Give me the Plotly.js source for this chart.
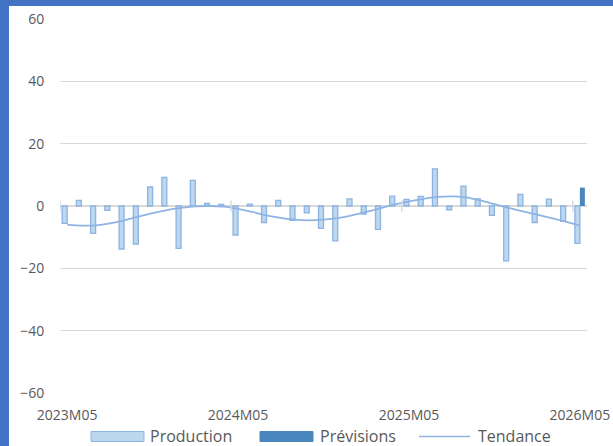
<!DOCTYPE html>
<html>
<head>
<meta charset="utf-8">
<script src="https://cdn.plot.ly/plotly-3.0.1.min.js"></script>
<style>
  html, body { margin: 0; padding: 0; background: #ffffff; }
  #wrap { position: relative; width: 613px; height: 446px; overflow: hidden; }
  #chart { position: absolute; left: 0; top: 0; width: 613px; height: 446px; }
  .edgeL { position: absolute; left: 0; top: 0; width: 9px; height: 446px; background: #4472C4; }
  .edgeT { position: absolute; left: 0; top: 0; width: 613px; height: 6px; background: #4472C4; }
</style>
</head>
<body>
<div id="wrap">
  <div id="chart"></div>
  <div class="edgeL"></div>
  <div class="edgeT"></div>
</div>
<script>
// ---- data ----
const months = [
  "2023M05","2023M06","2023M07","2023M08","2023M09","2023M10","2023M11","2023M12",
  "2024M01","2024M02","2024M03","2024M04","2024M05","2024M06","2024M07","2024M08",
  "2024M09","2024M10","2024M11","2024M12","2025M01","2025M02","2025M03","2025M04",
  "2025M05","2025M06","2025M07","2025M08","2025M09","2025M10","2025M11","2025M12",
  "2026M01","2026M02","2026M03","2026M04","2026M05"
];
const production = [
  -5.6, 1.8, -8.8, -1.4, -13.8, -12.2, 6.1, 9.2,
  -13.6, 8.2, 0.8, 0.5, -9.3, 0.6, -5.3, 1.8,
  -4.6, -2.2, -7.2, -11.2, 2.3, -2.6, -7.5, 3.2,
  2.1, 3.1, 11.9, -1.2, 6.4, 2.3, -3.0, -17.6,
  3.7, -5.3, 2.2, -4.9, -12.0
];
const previsions = [
  null, null, null, null, null, null, null, null,
  null, null, null, null, null, null, null, null,
  null, null, null, null, null, null, null, null,
  null, null, null, null, null, null, null, null,
  null, null, null, null, 5.9
];
const tendance = [
  -6.0, -6.3, -6.2, -5.6, -4.6, -3.4, -2.3, -1.3,
  -0.6, -0.1, 0.0, -0.2, -0.9, -1.9, -3.0, -3.8,
  -4.4, -4.6, -4.4, -3.9, -3.0, -1.9, -0.7, 0.5,
  1.5, 2.3, 2.9, 3.1, 2.8, 1.8, 0.6, -0.6,
  -1.7, -2.8, -3.9, -5.0, -6.3
];
const tickLabels = ["2023M05", "2024M05", "2025M05", "2026M05"];
const seriesNames = ["Production", "Prévisions", "Tendance"];
const yTicks = [-60, -40, -20, 0, 20, 40, 60];

// ---- styling ----
const W = 613, H = 446;
const M = { l: 60, r: 26, t: 19, b: 53 };
const PW = W - M.l - M.r, PH = H - M.t - M.b;
const px2x = p => (p - M.l) / PW;
const px2y = p => (H - M.b - p) / PH;
const grey = "#595959";
const font = "'Open Sans', 'Liberation Sans', sans-serif";

const cProdFill = "#BDD7EE", cProdLine = "#8DB3E2";
const cPrev = "#4A86BE";
const cTrend = "#8EB4E3";

const traces = [
  { type: "bar", name: seriesNames[0], x: months, y: production,
    marker: { color: cProdFill, line: { color: cProdLine, width: 1.3 } } },
  { type: "bar", name: seriesNames[1], x: months, y: previsions,
    marker: { color: cPrev, line: { color: cPrev, width: 0 } } },
  { type: "scatter", mode: "lines", name: seriesNames[2], x: months, y: tendance,
    line: { color: cTrend, width: 1.8, shape: "spline", smoothing: 0.6 } }
];

// category-boundary tick marks every 12 months on the zero line
const tickIdx = tickLabels.map(t => months.indexOf(t));
const shapes = tickIdx.map(i => ({
  type: "line", xref: "x", yref: "y", x0: i - 0.5, x1: i - 0.5, y0: -1.8, y1: 1.8,
  line: { color: "#D9D9D9", width: 1.5 }, layer: "above"
}));

// custom legend
const legY = 436.5;
const annotations = [];
function legRect(x0, x1, fill, stroke) {
  shapes.push({ type: "rect", xref: "paper", yref: "paper",
    x0: px2x(x0), x1: px2x(x1), y0: px2y(legY + 5), y1: px2y(legY - 5),
    fillcolor: fill, line: { color: stroke, width: 1 } });
}
legRect(91, 144, cProdFill, cProdLine);
legRect(260, 313, cPrev, cPrev);
shapes.push({ type: "line", xref: "paper", yref: "paper",
  x0: px2x(419), x1: px2x(470), y0: px2y(legY), y1: px2y(legY),
  line: { color: cTrend, width: 1.6 } });
[[148, seriesNames[0]], [318, seriesNames[1]], [476, seriesNames[2]]].forEach(([p, t]) => {
  annotations.push({ xref: "paper", yref: "paper", x: px2x(p), y: px2y(legY),
    xanchor: "left", yanchor: "middle", showarrow: false, text: t,
    font: { family: font, size: 16, color: grey } });
});

const layout = {
  width: W, height: H,
  margin: M,
  paper_bgcolor: "rgba(0,0,0,0)", plot_bgcolor: "#ffffff",
  showlegend: false,
  barmode: "group", bargap: 0.3, bargroupgap: 0,
  font: { family: font, color: grey },
  xaxis: {
    type: "category", categoryorder: "array", categoryarray: months,
    range: [-0.5, months.length - 0.5],
    tickmode: "array", tickvals: tickLabels, ticktext: tickLabels,
    ticks: "outside", ticklen: 9, tickcolor: "rgba(0,0,0,0)",
    showgrid: false, showline: false, zeroline: false,
    tickfont: { family: font, size: 14, color: grey }
  },
  yaxis: {
    range: [-60, 60], tickmode: "array", tickvals: yTicks,
    ticks: "outside", ticklen: 12, tickcolor: "rgba(0,0,0,0)",
    showgrid: true, gridcolor: "#D9D9D9", gridwidth: 1,
    zeroline: true, zerolinecolor: "#D9D9D9", zerolinewidth: 2,
    showline: false,
    tickfont: { family: font, size: 14, color: grey }
  },
  shapes: shapes,
  annotations: annotations
};

Plotly.newPlot("chart", traces, layout, { staticPlot: true, displayModeBar: false });
</script>
</body>
</html>
